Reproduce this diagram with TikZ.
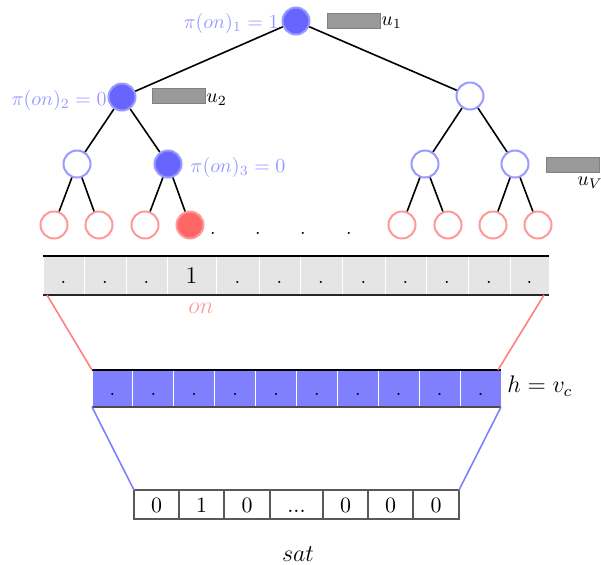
\documentclass[tikz,border=0pt]{standalone}
\definecolor{nodeblue}{HTML}{6666FF}
\definecolor{ringblue}{HTML}{9999FF}
\definecolor{leafred}{HTML}{FF6666}
\definecolor{ringred}{HTML}{FF9999}
\definecolor{barblue}{HTML}{8080FF}
\definecolor{bargrey}{HTML}{E5E5E5}
\definecolor{boxgrey}{HTML}{999999}
\definecolor{linered}{HTML}{FF8080}
\newcommand\satdots{...}
\begin{document}
\begin{tikzpicture}[x=0.5pt,y=-0.5pt,
  tn/.style={circle,minimum size=13.5pt,inner sep=0pt,line width=1pt},
  bfull/.style={tn,draw=ringblue,fill=nodeblue},
  bempty/.style={tn,draw=ringblue,fill=white},
  rfull/.style={tn,draw=ringred,fill=leafred},
  rempty/.style={tn,draw=ringred,fill=white},
  edge/.style={line width=0.8pt,black},
  pilbl/.style={text=ringblue,inner sep=0pt},
  ubox/.style={rectangle,draw=black!50,fill=boxgrey,minimum width=26.5pt,minimum height=7.5pt,inner sep=0pt,line width=0.4pt},
  ulbl/.style={inner sep=0pt},
  dotlbl/.style={inner sep=0pt,anchor=base},
  gcell/.style={rectangle,fill=bargrey,draw=white,line width=0.5pt,inner sep=0pt,outer sep=0pt,minimum height=19.5pt,text height=13.5pt,text depth=6pt},
  ccell/.style={rectangle,fill=barblue,draw=white,line width=0.5pt,inner sep=0pt,outer sep=0pt,minimum width=20.45pt,minimum height=18.5pt,text height=12.75pt,text depth=5.75pt},
  scell/.style={rectangle,draw=black!65,line width=0.7pt,inner sep=0pt,outer sep=0pt,minimum height=14.5pt,text height=11pt,text depth=3.5pt,font=\fontsize{10.95}{13}\selectfont},
  barline/.style={line width=0.8pt,black},
  redl/.style={line width=0.8pt,linered},
  bluel/.style={line width=0.8pt,barblue}
]
\useasboundingbox (0,0) rectangle (601,564);

% tree nodes
\node[bfull] (r) at (296,21) {};
\node[bfull] (a) at (122,97) {};
\node[bempty] (b) at (470,96) {};
\node[bempty] (aa) at (77,164) {};
\node[bfull] (ab) at (168,164) {};
\node[bempty] (ba) at (425,164) {};
\node[bempty] (bb) at (515,164) {};
\node[rempty] (l1) at (54,225) {};
\node[rempty] (l2) at (99,225) {};
\node[rempty] (l3) at (145,225) {};
\node[rfull] (l4) at (190,225) {};
\node[rempty] (l5) at (402,225) {};
\node[rempty] (l6) at (448,225) {};
\node[rempty] (l7) at (493,225) {};
\node[rempty] (l8) at (538,225) {};

% tree edges
\draw[edge] (r) -- (a);
\draw[edge] (r) -- (b);
\draw[edge] (a) -- (aa);
\draw[edge] (a) -- (ab);
\draw[edge] (b) -- (ba);
\draw[edge] (b) -- (bb);
\draw[edge] (aa) -- (l1);
\draw[edge] (aa) -- (l2);
\draw[edge] (ab) -- (l3);
\draw[edge] (ab) -- (l4);
\draw[edge] (ba) -- (l5);
\draw[edge] (ba) -- (l6);
\draw[edge] (bb) -- (l7);
\draw[edge] (bb) -- (l8);

% pi labels
\node[pilbl,anchor=east] (p1) at (279,23) {$\pi(on)_1 = 1$};
\node[pilbl,anchor=east] (p2) at (107,100) {$\pi(on)_2 = 0$};
\node[pilbl,anchor=west] (p3) at (190,167) {$\pi(on)_3 = 0$};

% grey boxes and u labels
\node[ubox] (u1box) at (353.5,20.5) {};
\node[ubox] (u2box) at (179,96) {};
\node[ubox] (uVbox) at (572.5,165) {};
\node[ulbl,anchor=base west] (u1) at (381,25) {$u_1$};
\node[ulbl,anchor=base west] (u2) at (206,102) {$u_2$};
\node[ulbl,anchor=base west] (uV) at (577,185) {$u_V$};

% dots after leaves
\node[dotlbl] (d1) at (213,234.5) {.};
\node[dotlbl] (d2) at (258,234.5) {.};
\node[dotlbl] (d3) at (303,234.5) {.};
\node[dotlbl] (d4) at (349,234.5) {.};

% grey bar
\foreach \a/\b/\t [count=\i] in {43/84/.,84/126/.,126/167/.,167/216/{\large 1},216/259/.,259/300/.,300/342/.,342/385/.,385/426/.,426/468/.,468/510/.,510/549/.}
  \node[gcell,minimum width={(\b-\a)*0.5pt}] (g\i) at ({(\a+\b)/2},275.5) {\t};
\draw[barline] (g1.north west) -- (g12.north east);
\draw[barline,black!85] (g1.south west) -- (g12.south east);
\node[text=ringred,inner sep=0pt] (on) at (201,308) {\large $on$};

% blue bar
\foreach \i in {1,...,10}
  \node[ccell] (c\i) at ({92+40.9*(\i-1)+20.45},388.5) {.};
\draw[barline] (c1.north west) -- (c10.north east);
\draw[barline,black!70] (c1.south west) -- (c10.south east);
\node[anchor=west,inner sep=0pt] (h) at (507,386) {\large $h = v_c$};

% red connectors
\draw[redl] ([xshift=2pt]g1.south west) -- (c1.north west);
\draw[redl] ([xshift=-2.5pt]g12.south east) -- ([xshift=-1.5pt]c10.north east);

% sat boxes
\foreach \a/\b/\t [count=\i] in {134/179/0,179/224/1,224/270/0,270/323/\satdots,323/368/0,368/413/0,413/459/0}
  \node[scell,minimum width={(\b-\a)*0.5pt}] (s\i) at ({(\a+\b)/2},504.5) {\t};

% blue connectors
\draw[bluel] (c1.south west) -- (s1.north west);
\draw[bluel] (c10.south east) -- (s7.north east);

\node[inner sep=0pt] (sat) at (298,554) {\large $sat$};
\end{tikzpicture}
\end{document}
